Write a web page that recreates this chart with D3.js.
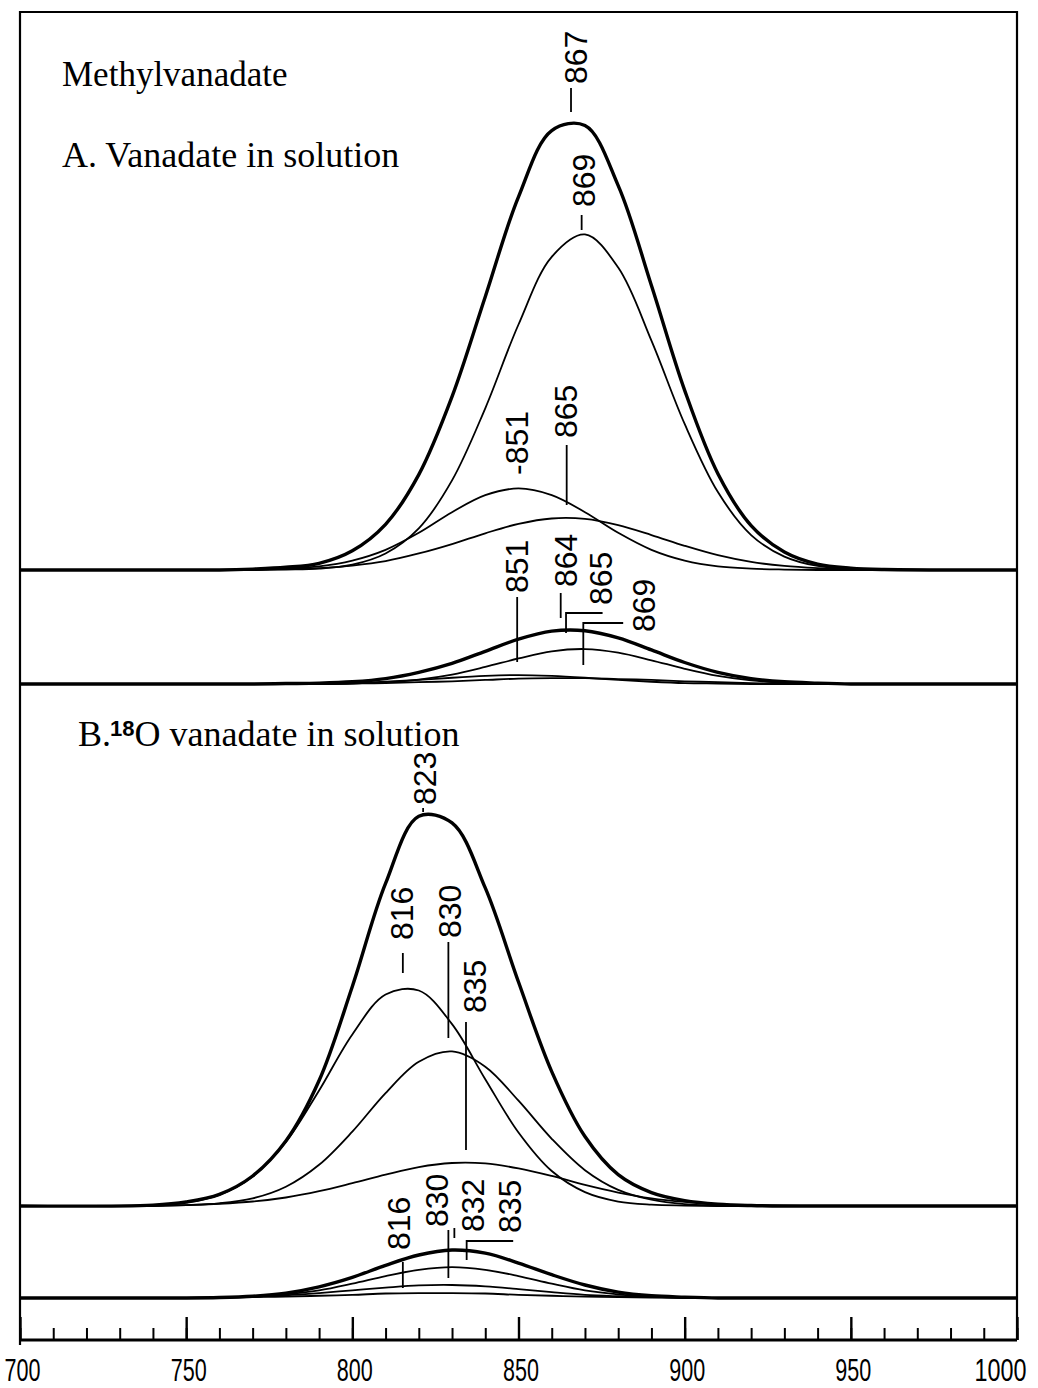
<!DOCTYPE html>
<html>
<head>
<meta charset="utf-8">
<script src="https://cdn.jsdelivr.net/npm/d3@7"></script>
<style>
body { margin: 0; background: #fff; }
text { fill: #000; }
</style>
</head>
<body>
<svg id="canvas" width="1038" height="1388"></svg>
<script>
//Wavenumber grid (cm-1) that every trace is sampled on
var wavenumbers = [700, 740, 750, 760, 770, 780, 790, 800, 810, 820, 830, 840, 850, 860, 870, 880, 890, 900, 910, 920, 930, 940, 950, 960, 1000];

//A. Vanadate in solution, upper set (total + components)
var aTotal = [0, 0, 0, 0, 0.2, 0.6, 1.5, 4.3, 10.2, 21.3, 38.7, 61.0, 83.3, 98.1, 99.2, 85.8, 63.5, 40.1, 21.5, 9.9, 4.0, 1.3, 0.4, 0.1, 0];
var a869 = [0, 0, 0, 0, 0, 0.1, 0.3, 1.2, 3.7, 9.3, 20.0, 36.1, 54.8, 69.9, 74.9, 67.5, 51.2, 32.6, 17.4, 7.8, 3.0, 0.9, 0.3, 0.1, 0];
var a851 = [0, 0, 0, 0, 0.1, 0.3, 0.8, 2.1, 4.5, 8.3, 12.9, 16.7, 18.2, 16.7, 12.9, 8.3, 4.5, 2.1, 0.8, 0.3, 0.1, 0, 0, 0, 0];
var a865 = [0, 0, 0, 0, 0.1, 0.2, 0.4, 1.0, 2.0, 3.7, 5.8, 8.2, 10.3, 11.5, 11.4, 10.0, 7.8, 5.4, 3.3, 1.8, 0.9, 0.4, 0.1, 0, 0];

//A. lower (methylvanadate) set
var amTotal = [0, 0, 0, 0, 0, 0.1, 0.2, 0.5, 1.2, 2.6, 4.6, 7.3, 10.0, 11.8, 11.9, 10.3, 7.6, 4.8, 2.6, 1.2, 0.5, 0.2, 0, 0, 0];
var am2 = [0, 0, 0, 0, 0, 0, 0, 0.1, 0.4, 1.0, 2.1, 3.8, 5.7, 7.3, 7.8, 7.0, 5.3, 3.4, 1.8, 0.8, 0.3, 0.1, 0, 0, 0];
var am3 = [0, 0, 0, 0, 0, 0, 0.1, 0.2, 0.5, 0.9, 1.4, 1.8, 2.0, 1.8, 1.4, 0.9, 0.5, 0.2, 0.1, 0, 0, 0, 0, 0, 0];
var am4 = [0, 0, 0, 0, 0, 0, 0, 0.1, 0.2, 0.4, 0.6, 0.9, 1.2, 1.3, 1.3, 1.1, 0.9, 0.6, 0.4, 0.2, 0.1, 0, 0, 0, 0];

//B. 18O vanadate in solution, upper set
var bTotal = [0, 0.2, 0.9, 2.6, 6.7, 14.5, 28.0, 49.0, 72.0, 87.0, 85.5, 71.0, 50.0, 30.0, 15.5, 7.0, 3.0, 1.2, 0.4, 0.1, 0, 0, 0, 0, 0];
var b816 = [0, 0.2, 0.8, 2.5, 6.6, 14.3, 25.8, 38.3, 47.2, 48.1, 40.6, 28.3, 16.4, 7.8, 3.1, 1.0, 0.3, 0.1, 0, 0, 0, 0, 0, 0, 0];
var b830 = [0, 0, 0.2, 0.6, 1.7, 4.3, 9.2, 16.6, 25.2, 32.2, 34.5, 31.1, 23.5, 15.0, 8.0, 3.6, 1.4, 0.4, 0.1, 0, 0, 0, 0, 0, 0];
var b835 = [0, 0.1, 0.2, 0.5, 1.0, 1.9, 3.3, 5.1, 7.0, 8.7, 9.6, 9.5, 8.4, 6.7, 4.7, 3.0, 1.7, 0.9, 0.4, 0.2, 0.1, 0, 0, 0, 0];

//B. lower set
var bmTotal = [0, 0, 0, 0.1, 0.4, 1.1, 2.5, 4.6, 7.3, 9.6, 10.7, 10.0, 7.8, 5.2, 2.9, 1.3, 0.5, 0.2, 0, 0, 0, 0, 0, 0, 0];
var bm2 = [0, 0, 0, 0.1, 0.3, 0.8, 1.7, 3.2, 4.9, 6.3, 6.9, 6.3, 4.9, 3.2, 1.7, 0.8, 0.3, 0.1, 0, 0, 0, 0, 0, 0, 0];
var bm3 = [0, 0, 0, 0.1, 0.3, 0.6, 1.1, 1.7, 2.3, 2.8, 2.9, 2.6, 2.0, 1.3, 0.7, 0.4, 0.2, 0.1, 0, 0, 0, 0, 0, 0, 0];
var bm4 = [0, 0, 0, 0.1, 0.2, 0.3, 0.5, 0.7, 1.0, 1.1, 1.1, 1.0, 0.7, 0.5, 0.3, 0.2, 0.1, 0, 0, 0, 0, 0, 0, 0, 0];

//Axis ticks
var majorTicks = [700, 750, 800, 850, 900, 950, 1000];
var minorTicks = d3.range(700, 1001, 10);

//Peak labels and the wavenumber of each label's centre
var peakLabels = ["867", "869", "-851", "865", "851", "864", "865", "869", "823", "816", "830", "835", "816", "830", "832", "835"];
var peakLabelPos = [867.0, 869.5, 849.5, 864.0, 849.5, 864.0, 874.8, 887.5, 821.6, 814.8, 829.2, 836.9, 813.9, 825.3, 836.2, 847.4];

var svg = d3.select("#canvas"),
  width = +svg.attr("width"),
  height = +svg.attr("height");

//bottom of each label text (pixels)
var labelBottom = [84, 207, 475, 438, 593, 587, 605, 632, 805, 940, 938, 1013, 1250, 1227, 1232, 1233];

//leader lines: list of [wavenumber, pixel y] points
var leaders = [
  [[865.8, 88], [865.8, 112]],
  [[869.0, 215], [869.0, 230]],
  [[864.5, 445], [864.5, 505]],
  [[849.6, 597], [849.6, 662]],
  [[862.7, 593], [862.7, 618]],
  [[875.3, 613], [864.3, 613], [864.3, 633]],
  [[881.5, 623], [869.5, 623], [869.5, 665]],
  [[821.3, 808], [821.3, 812]],
  [[815.2, 953], [815.2, 973]],
  [[828.9, 942], [828.9, 1038]],
  [[834.2, 1022], [834.2, 1150]],
  [[815.2, 1262], [815.2, 1288]],
  [[828.9, 1230], [828.9, 1278]],
  [[830.7, 1228], [830.7, 1238]],
  [[848.4, 1241], [834.4, 1241], [834.4, 1260]]
];

var x = d3.scaleLinear().domain([700, 1000]).range([20, 1017]);
//absorbance (arbitrary units) to pixel height
var yh = d3.scaleLinear().domain([0, 100]).range([0, 448]);

//baseline pixel of each trace group
var baseA = 570, baseAm = 684, baseB = 1206, baseBm = 1298;

var traces = [
  {v: a869, base: baseA, w: 1.8}, {v: a851, base: baseA, w: 1.8}, {v: a865, base: baseA, w: 1.8}, {v: aTotal, base: baseA, w: 3.4},
  {v: am2, base: baseAm, w: 1.8}, {v: am3, base: baseAm, w: 1.8}, {v: am4, base: baseAm, w: 1.8}, {v: amTotal, base: baseAm, w: 3.4},
  {v: b816, base: baseB, w: 1.8}, {v: b830, base: baseB, w: 1.8}, {v: b835, base: baseB, w: 1.8}, {v: bTotal, base: baseB, w: 3.4},
  {v: bm2, base: baseBm, w: 1.8}, {v: bm3, base: baseBm, w: 1.8}, {v: bm4, base: baseBm, w: 1.8}, {v: bmTotal, base: baseBm, w: 3.4}
];

//Frame
svg.append("path")
  .attr("d", "M20,1345 V12 H1017 V1340")
  .attr("fill", "none")
  .attr("stroke", "#000")
  .attr("stroke-width", 2.2);

//Traces (smooth spline through the read points)
svg.append("g").selectAll("path")
  .data(traces)
  .enter().append("path")
  .attr("fill", "none")
  .attr("stroke", "#000")
  .attr("stroke-width", function(d) { return d.w; })
  .attr("stroke-linejoin", "round")
  .attr("d", function(t) {
    return d3.line()
      .x(function(d, i) { return x(wavenumbers[i]); })
      .y(function(d) { return t.base - yh(d); })
      .curve(d3.curveCatmullRom.alpha(0.5))(t.v);
  });

//Leader lines
svg.append("g").selectAll("path")
  .data(leaders)
  .enter().append("path")
  .attr("fill", "none")
  .attr("stroke", "#000")
  .attr("stroke-width", 1.8)
  .attr("d", d3.line().x(function(d) { return x(d[0]); }).y(function(d) { return d[1]; }));

//Peak labels (rotated)
svg.append("g").selectAll("text")
  .data(peakLabels)
  .enter().append("text")
  .attr("transform", function(d, i) { return "translate(" + x(peakLabelPos[i]) + "," + labelBottom[i] + ") rotate(-90)"; })
  .attr("dy", "0.36em")
  .style("font-family", "'Liberation Sans', Arial, sans-serif")
  .style("font-size", "32px")
  .text(function(d) { return d; });

//Titles
var serif = "'Liberation Serif', 'Times New Roman', serif";
svg.append("text").attr("x", 62).attr("y", 86)
  .style("font-family", serif).style("font-size", "35px")
  .text("Methylvanadate");
svg.append("text").attr("x", 62).attr("y", 167)
  .style("font-family", serif).style("font-size", "36px")
  .text("A. Vanadate in solution");
var tB = svg.append("text").attr("x", 78).attr("y", 746)
  .style("font-family", serif).style("font-size", "36px");
tB.append("tspan").text("B.");
tB.append("tspan").attr("dx", -1).attr("dy", -10)
  .style("font-family", "'Liberation Sans', Arial, sans-serif")
  .style("font-weight", "bold").style("font-size", "22px")
  .text("18");
tB.append("tspan").attr("dy", 10).text("O vanadate in solution");

//Bottom axis, ticks point up
var axisG = svg.append("g").attr("transform", "translate(0,1340)");
axisG.append("g")
  .call(d3.axisBottom(x).tickValues(minorTicks).tickSize(-12).tickFormat(""))
  .call(function(g) { g.select(".domain").remove(); })
  .selectAll("line").attr("stroke-width", 2);
axisG.append("g")
  .call(d3.axisBottom(x).tickValues(majorTicks).tickSize(-23).tickPadding(20).tickFormat(d3.format("d")))
  .call(function(g) {
    g.select(".domain").attr("stroke-width", 3).attr("d", "M20,0H1017");
    g.selectAll("line").attr("stroke-width", 2.4);
    g.selectAll("text")
      .attr("fill", "#000")
      .attr("y", 18)
      .style("font-family", "'Liberation Sans', Arial, sans-serif")
      .style("font-size", "32px")
      .attr("textLength", function(d) { return d >= 1000 ? 52 : 36; })
      .attr("lengthAdjust", "spacingAndGlyphs")
      .attr("x", function(d) { return d >= 1000 ? -17 : 2; });
  });
</script>
</body>
</html>
